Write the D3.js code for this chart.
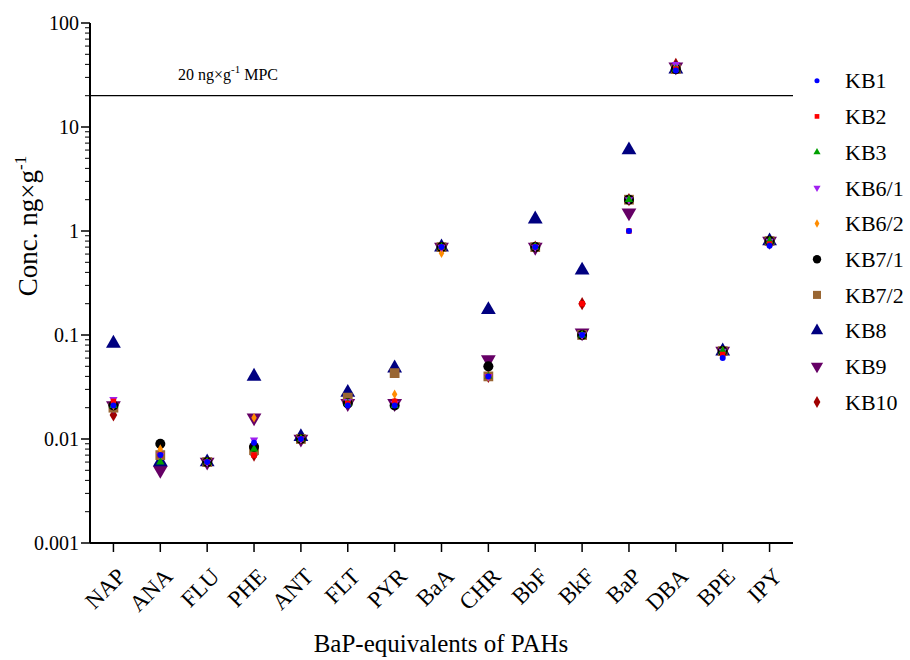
<!DOCTYPE html>
<html><head><meta charset="utf-8">
<script src="https://cdn.jsdelivr.net/npm/d3@7"></script>
<style>body{margin:0;background:#fff}svg{display:block;font-family:"Liberation Serif","Times New Roman",serif}</style>
</head><body><svg id="c" width="910" height="660"></svg>
<script>
const categories = ["NAP","ANA","FLU","PHE","ANT","FLT","PYR","BaA","CHR","BbF","BkF","BaP","DBA","BPE","IPY"];
const seriesNames = ["KB1","KB2","KB3","KB6/1","KB6/2","KB7/1","KB7/2","KB8","KB9","KB10"];
const KB1  = [0.021,0.007,0.006,0.0092,0.010,0.021,0.021,0.70,0.040,0.70,0.100,1.0,35,0.060,0.72];
const KB2  = [0.023,0.007,0.006,0.0070,0.010,0.022,0.023,0.70,0.040,0.70,0.200,1.0,36,0.065,0.75];
const KB3  = [0.021,0.006,0.006,0.0080,0.010,0.022,0.021,0.70,0.040,0.70,0.100,2.0,36,0.070,0.80];
const KB6_1= [0.024,0.007,0.006,0.0098,0.010,0.023,0.022,0.70,0.040,0.70,0.100,2.0,40,0.070,0.80];
const KB6_2= [0.021,0.008,0.006,0.0160,0.010,0.022,0.027,0.61,0.040,0.70,0.100,2.0,38,0.070,0.80];
const KB7_1= [0.021,0.009,0.006,0.0084,0.010,0.022,0.021,0.70,0.050,0.70,0.100,2.0,36,0.070,0.80];
const KB7_2= [0.020,0.007,0.006,0.0078,0.010,0.025,0.043,0.70,0.040,0.70,0.100,2.0,36,0.070,0.80];
const KB8  = [0.083,0.006,0.006,0.0400,0.0105,0.028,0.048,0.70,0.175,1.30,0.420,6.0,36,0.070,0.80];
const KB9  = [0.021,0.005,0.006,0.0160,0.010,0.022,0.022,0.70,0.058,0.70,0.105,1.5,38,0.070,0.80];
const KB10 = [0.017,0.006,0.006,0.0070,0.010,0.022,0.022,0.70,0.040,0.70,0.200,2.0,40,0.070,0.80];
const seriesValues = [KB1,KB2,KB3,KB6_1,KB6_2,KB7_1,KB7_2,KB8,KB9,KB10];
const yTicks = [0.001,0.01,0.1,1,10,100];
const yTickLabels = ["0.001","0.01","0.1","1","10","100"];
const mpcValue = 20;

const colors = ["#0000ff","#ff0000","#00a000","#a020f0","#ff8c00","#000000","#996633","#000080","#660066","#a00000"];
const shapes = ["circle","square","tri","down","diamond","circle","square","tri","down","diamond"];
const sizes  = [28,30,30,30,26,80,95,95,95,50];
const legendSizes = [20,22,22,22,20,55,65,65,65,40];

const svg = d3.select("#c");
const L=90, R=793, T=23, B=543;
const x = d3.scaleBand().domain(categories).range([L,R]);
const y = d3.scaleLog().domain([0.001,100]).range([B,T]);

function symPath(shape,size){
  const t = {circle:d3.symbolCircle,square:d3.symbolSquare,tri:d3.symbolTriangle,down:d3.symbolTriangle,diamond:d3.symbolDiamond}[shape];
  return d3.symbol().type(t).size(size)();
}
function symTransform(shape,cx,cy){
  return `translate(${cx},${cy})` + (shape==="down" ? " rotate(180)" : "");
}

// MPC line
svg.append("line").attr("x1",L).attr("x2",R).attr("y1",y(mpcValue)).attr("y2",y(mpcValue))
  .attr("stroke","#000").attr("stroke-width",1.2);
const mpc = svg.append("text").attr("x",178).attr("y",y(mpcValue)-16).attr("font-size",16);
mpc.append("tspan").text("20 ng×g");
mpc.append("tspan").attr("font-size",11).attr("dy",-7).text("-1");
mpc.append("tspan").attr("dy",7).text(" MPC");

// y axis
const yAxis = svg.append("g").attr("transform",`translate(${L},0)`);
yAxis.append("line").attr("x1",0).attr("x2",0).attr("y1",T).attr("y2",B).attr("stroke","#000").attr("stroke-width",2);
const minors = [];
for (let e=-3; e<2; e++) for (let m=2; m<10; m++) minors.push(m*Math.pow(10,e));
yAxis.selectAll(".mn").data(minors).join("line").attr("x1",-5).attr("x2",0)
  .attr("y1",d=>y(d)).attr("y2",d=>y(d)).attr("stroke","#000").attr("stroke-width",1);
yAxis.selectAll(".mj").data(yTicks).join("line").attr("x1",-9).attr("x2",0)
  .attr("y1",d=>y(d)).attr("y2",d=>y(d)).attr("stroke","#000").attr("stroke-width",1.5);
yAxis.selectAll(".lb").data(yTicks).join("text").attr("x",-11).attr("y",d=>y(d)).attr("dy","0.35em")
  .attr("text-anchor","end").attr("font-size",20).text((d,i)=>yTickLabels[i]);

// x axis
const xAxis = svg.append("g");
xAxis.append("line").attr("x1",L).attr("x2",R).attr("y1",B).attr("y2",B).attr("stroke","#000").attr("stroke-width",2);
xAxis.selectAll(".xt").data(categories).join("line")
  .attr("x1",d=>x(d)+x.bandwidth()/2).attr("x2",d=>x(d)+x.bandwidth()/2)
  .attr("y1",B).attr("y2",B+9).attr("stroke","#000").attr("stroke-width",1.5);
xAxis.selectAll(".xl").data(categories).join("text")
  .attr("transform",d=>`translate(${x(d)+x.bandwidth()/2+8},${B+29}) rotate(-45)`)
  .attr("text-anchor","end").attr("dy","0.35em").attr("font-size",23).text(d=>d);

// titles
svg.append("text").attr("x",441).attr("y",652).attr("text-anchor","middle").attr("font-size",25).text("BaP-equivalents of PAHs");
const yt = svg.append("text").attr("transform","translate(37,226) rotate(-90)").attr("text-anchor","middle").attr("font-size",27);
yt.append("tspan").text("Conc. ng×g");
yt.append("tspan").attr("font-size",17).attr("dy",-11).text("-1");

// points (KB1 drawn last, on top)
const order = d3.range(seriesNames.length).reverse();
order.forEach(si=>{
  svg.append("g").selectAll("path").data(seriesValues[si]).join("path")
    .attr("d",symPath(shapes[si],sizes[si]))
    .attr("transform",(d,i)=>symTransform(shapes[si],x(categories[i])+x.bandwidth()/2,y(d)))
    .attr("fill",colors[si]);
});

// legend
const lg = svg.append("g");
seriesNames.forEach((n,i)=>{
  const ly = 80.7 + i*35.7;
  lg.append("path").attr("d",symPath(shapes[i],legendSizes[i])).attr("transform",symTransform(shapes[i],817,ly)).attr("fill",colors[i]);
  lg.append("text").attr("x",845).attr("y",ly).attr("dy","0.35em").attr("font-size",22).text(n);
});
</script></body></html>
